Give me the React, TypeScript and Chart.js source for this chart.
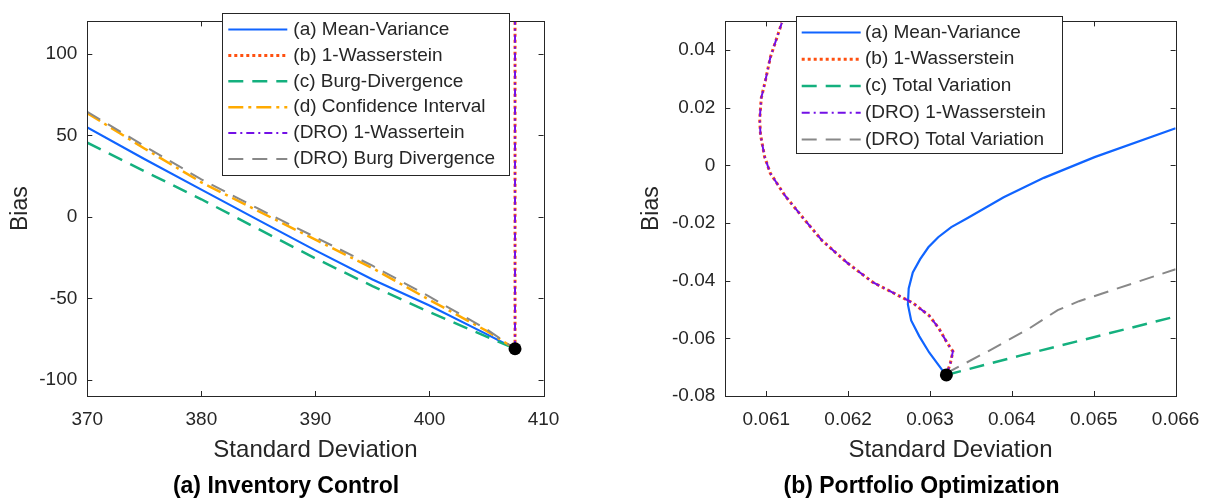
import React, { useEffect, useRef } from 'react';
import { Chart, registerables } from 'chart.js';

Chart.register(...registerables);

const FONT = '"Liberation Sans", Arial, Helvetica, sans-serif';
const TEXT = '#262626';

// ---------- (a) Inventory Control ----------
const invXTicks = [370, 380, 390, 400, 410];
const invXTickLabels = ['370', '380', '390', '400', '410'];
const invYTicks = [-100, -50, 0, 50, 100];
const invYTickLabels = ['-100', '-50', '0', '50', '100'];
const invLabels = [
  '(a) Mean-Variance',
  '(b) 1-Wasserstein',
  '(c) Burg-Divergence',
  '(d) Confidence Interval',
  '(DRO) 1-Wassertein',
  '(DRO) Burg Divergence',
];
const invMeanVarX = [370, 375, 380, 385, 390, 395, 400, 405, 407.5];
const invMeanVarY = [54.9, 35.5, 16.7, -2, -20.6, -38.5, -54.5, -72, -81];
const invWassX = [407.5, 407.5];
const invWassY = [-81, 130];
const invBurgX = [370, 375, 380, 385, 390, 395, 400, 403, 405, 407.5];
const invBurgY = [45.5, 28, 10.8, -7.5, -25.5, -42.5, -58.5, -67.5, -73.5, -81];
const invCIX = [370, 375, 380, 385, 390, 395, 400, 405, 407.5];
const invCIY = [63.7, 42, 21.2, 3.5, -14, -31.5, -51, -70, -81];
const invDroWassX = [407.5, 407.5];
const invDroWassY = [-81, 130];
const invDroBurgX = [370, 375, 380, 385, 390, 395, 400, 405, 407.5];
const invDroBurgY = [64.5, 43.5, 23, 5, -12.5, -30, -49, -69, -81];
const invDotX = [407.5];
const invDotY = [-81];

// ---------- (b) Portfolio Optimization ----------
const portXTicks = [0.061, 0.062, 0.063, 0.064, 0.065, 0.066];
const portXTickLabels = ['0.061', '0.062', '0.063', '0.064', '0.065', '0.066'];
const portYTicks = [-0.08, -0.06, -0.04, -0.02, 0, 0.02, 0.04];
const portYTickLabels = ['-0.08', '-0.06', '-0.04', '-0.02', '0', '0.02', '0.04'];
const portLabels = [
  '(a) Mean-Variance',
  '(b) 1-Wasserstein',
  '(c) Total Variation',
  '(DRO) 1-Wasserstein',
  '(DRO) Total Variation',
];
const portMeanVarX = [0.0632, 0.06315, 0.06299, 0.06287, 0.06277, 0.06273, 0.06274, 0.06279, 0.06288, 0.06298, 0.0631, 0.06326, 0.06346, 0.0639, 0.06439, 0.06501, 0.066];
const portMeanVarY = [-0.0727, -0.071, -0.0649, -0.0593, -0.0538, -0.0482, -0.0427, -0.0371, -0.0325, -0.0284, -0.0249, -0.0214, -0.0182, -0.011, -0.0043, 0.0029, 0.0129];
const portWassX = [0.0632, 0.06325, 0.06328, 0.06321, 0.06311, 0.06299, 0.06279, 0.06257, 0.0623, 0.06199, 0.06168, 0.06145, 0.06123, 0.06105, 0.06098, 0.06093, 0.06092, 0.06094, 0.06099, 0.06105, 0.06119];
const portWassY = [-0.0727, -0.0685, -0.0645, -0.0616, -0.0566, -0.0521, -0.0477, -0.0445, -0.0405, -0.0338, -0.026, -0.0182, -0.0105, -0.0027, 0.003, 0.0107, 0.016, 0.0235, 0.0295, 0.0375, 0.0495];
const portTVX = [0.0632, 0.0641, 0.065, 0.066];
const portTVY = [-0.0727, -0.066, -0.0596, -0.0524];
const portDroWassX = portWassX;
const portDroWassY = portWassY;
const portDroTVX = [0.0632, 0.06326, 0.06372, 0.06421, 0.06456, 0.06482, 0.066];
const portDroTVY = [-0.0727, -0.0712, -0.0643, -0.0566, -0.0502, -0.0471, -0.036];
const portDotX = [0.0632];
const portDotY = [-0.0727];

// ---------- styles ----------
const C_BLUE = '#1064FF';
const C_RED = '#FF5010';
const C_GREEN = '#14B07E';
const C_ORANGE = '#FFAA00';
const C_PURPLE = '#7310E6';
const C_GRAY = '#888888';

const STYLE_SOLID = { borderColor: C_BLUE, borderWidth: 2.2, borderDash: [] as number[] };
const STYLE_DOT = { borderColor: C_RED, borderWidth: 3, borderDash: [3, 3] };
const STYLE_GREEN = { borderColor: C_GREEN, borderWidth: 2.5, borderDash: [15, 9] };
const STYLE_ORANGE = { borderColor: C_ORANGE, borderWidth: 2.5, borderDash: [15, 5, 3, 5] };
const STYLE_PURPLE = { borderColor: C_PURPLE, borderWidth: 2, borderDash: [8, 4, 2, 4] };
const STYLE_GRAY = { borderColor: C_GRAY, borderWidth: 2, borderDash: [15, 9] };

function pts(xs: number[], ys: number[]) {
  return xs.map((x, i) => ({ x, y: ys[i] }));
}

function lineDs(label: string, xs: number[], ys: number[], style: any, order: number) {
  return {
    type: 'scatter',
    label,
    data: pts(xs, ys),
    showLine: true,
    fill: false,
    pointRadius: 0,
    tension: 0,
    borderColor: style.borderColor,
    borderWidth: style.borderWidth,
    borderDash: style.borderDash,
    backgroundColor: style.borderColor,
    borderCapStyle: 'butt',
    order,
    xAxisID: 'x',
    yAxisID: 'y',
    isLegend: true,
  };
}

function dotDs(xs: number[], ys: number[]) {
  return {
    type: 'scatter',
    label: '',
    data: pts(xs, ys),
    showLine: false,
    pointRadius: 6.5,
    pointHoverRadius: 6.5,
    backgroundColor: '#000',
    borderColor: '#000',
    borderWidth: 0,
    order: 0,
    xAxisID: 'x',
    yAxisID: 'y',
    isLegend: false,
  };
}

const boxPlugin = {
  id: 'matlabBox',
  afterDatasetsDraw(chart: any) {
    const { ctx, chartArea: a, scales } = chart;
    const xs = scales.x;
    const ys = scales.y;
    const L = 5;
    ctx.save();
    ctx.strokeStyle = TEXT;
    ctx.lineWidth = 1;
    ctx.setLineDash([]);
    ctx.beginPath();
    xs.ticks.forEach((t: any) => {
      const p = Math.round(xs.getPixelForValue(t.value)) + 0.5;
      ctx.moveTo(p, a.bottom);
      ctx.lineTo(p, a.bottom - L);
      ctx.moveTo(p, a.top);
      ctx.lineTo(p, a.top + L);
    });
    ys.ticks.forEach((t: any) => {
      const p = Math.round(ys.getPixelForValue(t.value)) + 0.5;
      ctx.moveTo(a.left, p);
      ctx.lineTo(a.left + L, p);
      ctx.moveTo(a.right, p);
      ctx.lineTo(a.right - L, p);
    });
    ctx.stroke();
    const l = Math.round(a.left) + 0.5;
    const t = Math.round(a.top) + 0.5;
    const r = Math.round(a.right) + 0.5;
    const b = Math.round(a.bottom) + 0.5;
    ctx.strokeRect(l, t, r - l, b - t);
    ctx.restore();
  },
};

function makeLegendPlugin(p: {
  x: number; y: number; w: number; h: number; row0: number; rowH: number;
  s0: number; s1: number; tx: number; font: number;
}) {
  return {
    id: 'boxLegend',
    afterDraw(chart: any) {
      const { ctx } = chart;
      const items = chart.data.datasets.filter((d: any) => d.isLegend);
      ctx.save();
      ctx.fillStyle = '#ffffff';
      ctx.fillRect(p.x, p.y, p.w, p.h);
      ctx.strokeStyle = TEXT;
      ctx.lineWidth = 1;
      ctx.setLineDash([]);
      ctx.strokeRect(Math.round(p.x) + 0.5, Math.round(p.y) + 0.5, Math.round(p.w), Math.round(p.h));
      items.forEach((ds: any, i: number) => {
        const cy = p.row0 + i * p.rowH;
        ctx.save();
        ctx.strokeStyle = ds.borderColor;
        ctx.lineWidth = ds.borderWidth;
        ctx.setLineDash(ds.borderDash || []);
        ctx.lineCap = 'butt';
        ctx.beginPath();
        ctx.moveTo(p.s0, cy);
        ctx.lineTo(p.s1, cy);
        ctx.stroke();
        ctx.restore();
        ctx.fillStyle = TEXT;
        ctx.font = `${p.font}px ${FONT}`;
        ctx.textBaseline = 'middle';
        ctx.textAlign = 'left';
        ctx.fillText(ds.label, p.tx, cy);
      });
      ctx.restore();
    },
  };
}

function labelFor(ticks: number[], labels: string[]) {
  return (v: number) => {
    const i = ticks.findIndex((t) => Math.abs(t - v) < 1e-9);
    return i >= 0 ? labels[i] : '';
  };
}

function makeScales(o: {
  xmin: number; xmax: number; ymin: number; ymax: number;
  xTicks: number[]; xLabels: string[]; yTicks: number[]; yLabels: string[];
  yWidth: number; rightWidth: number; yTitlePad: number;
}) {
  return {
    x: {
      type: 'linear',
      position: 'bottom',
      min: o.xmin,
      max: o.xmax,
      afterBuildTicks: (s: any) => { s.ticks = o.xTicks.map((v) => ({ value: v })); },
      afterFit: (s: any) => { s.height = 76.9; },
      grid: { display: false, drawTicks: false },
      border: { display: false },
      ticks: {
        callback: labelFor(o.xTicks, o.xLabels),
        color: TEXT,
        font: { family: FONT, size: 19 },
        padding: 12.6,
        maxRotation: 0,
        minRotation: 0,
        autoSkip: false,
      },
      title: {
        display: true,
        text: 'Standard Deviation',
        color: TEXT,
        font: { family: FONT, size: 24 },
        padding: { top: 0, bottom: 8.5 },
      },
    },
    y: {
      type: 'linear',
      position: 'left',
      min: o.ymin,
      max: o.ymax,
      afterBuildTicks: (s: any) => { s.ticks = o.yTicks.map((v) => ({ value: v })); },
      afterFit: (s: any) => { s.width = o.yWidth; },
      grid: { display: false, drawTicks: false },
      border: { display: false },
      ticks: {
        callback: labelFor(o.yTicks, o.yLabels),
        color: TEXT,
        font: { family: FONT, size: 19 },
        padding: 10,
        autoSkip: false,
      },
      title: {
        display: true,
        text: 'Bias',
        color: TEXT,
        font: { family: FONT, size: 23 },
        padding: { top: o.yTitlePad, bottom: 0 },
      },
    },
    yR: {
      type: 'linear',
      position: 'right',
      display: true,
      grid: { display: false, drawTicks: false },
      border: { display: false },
      ticks: { display: false },
      afterFit: (s: any) => { s.width = o.rightWidth; },
    },
  };
}

function baseOptions(scales: any, caption: string) {
  return {
    responsive: false,
    maintainAspectRatio: false,
    animation: false,
    events: [],
    layout: { padding: { top: 6, left: 0, right: 0, bottom: 0 } },
    scales,
    plugins: {
      legend: { display: false },
      tooltip: { enabled: false },
      title: {
        display: true,
        position: 'bottom',
        text: caption,
        color: '#000000',
        font: { family: FONT, size: 23, weight: 'bold' },
        padding: { top: 0, bottom: 1.5 },
      },
    },
  };
}

function InventoryChart() {
  const ref = useRef<HTMLCanvasElement | null>(null);
  useEffect(() => {
    if (!ref.current) return;
    const datasets: any[] = [
      lineDs(invLabels[0], invMeanVarX, invMeanVarY, STYLE_SOLID, 6),
      lineDs(invLabels[1], invWassX, invWassY, STYLE_DOT, 5),
      lineDs(invLabels[2], invBurgX, invBurgY, STYLE_GREEN, 4),
      lineDs(invLabels[3], invCIX, invCIY, STYLE_ORANGE, 3),
      lineDs(invLabels[4], invDroWassX, invDroWassY, STYLE_PURPLE, 2),
      lineDs(invLabels[5], invDroBurgX, invDroBurgY, STYLE_GRAY, 1),
      dotDs(invDotX, invDotY),
    ];
    const chart = new Chart(ref.current, {
      type: 'scatter',
      data: { datasets },
      options: baseOptions(
        makeScales({
          xmin: 370, xmax: 410, ymin: -110, ymax: 120,
          xTicks: invXTicks, xLabels: invXTickLabels,
          yTicks: invYTicks, yLabels: invYTickLabels,
          yWidth: 87.3, rightWidth: 27.7, yTitlePad: 6.4,
        }),
        '(a) Inventory Control'
      ) as any,
      plugins: [
        boxPlugin,
        makeLegendPlugin({ x: 222, y: 12.5, w: 287, h: 161.5, row0: 29.5, rowH: 25.9, s0: 228.3, s1: 287.3, tx: 293.3, font: 19 }),
      ],
    } as any);
    return () => chart.destroy();
  }, []);
  return (
    <canvas
      ref={ref}
      width={572}
      height={502}
      style={{ position: 'absolute', left: 0, top: 0, width: 572, height: 502 }}
    />
  );
}

function PortfolioChart() {
  const ref = useRef<HTMLCanvasElement | null>(null);
  useEffect(() => {
    if (!ref.current) return;
    const datasets: any[] = [
      lineDs(portLabels[0], portMeanVarX, portMeanVarY, STYLE_SOLID, 5),
      lineDs(portLabels[1], portWassX, portWassY, STYLE_DOT, 4),
      lineDs(portLabels[2], portTVX, portTVY, STYLE_GREEN, 3),
      lineDs(portLabels[3], portDroWassX, portDroWassY, STYLE_PURPLE, 2),
      lineDs(portLabels[4], portDroTVX, portDroTVY, STYLE_GRAY, 1),
      dotDs(portDotX, portDotY),
    ];
    const chart = new Chart(ref.current, {
      type: 'scatter',
      data: { datasets },
      options: baseOptions(
        makeScales({
          xmin: 0.0605, xmax: 0.066, ymin: -0.08, ymax: 0.05,
          xTicks: portXTicks, xLabels: portXTickLabels,
          yTicks: portYTicks, yLabels: portYTickLabels,
          yWidth: 94.3, rightWidth: 35.7, yTitlePad: 6.8,
        }),
        '(b) Portfolio Optimization'
      ) as any,
      plugins: [
        boxPlugin,
        makeLegendPlugin({ x: 165, y: 15.7, w: 266, h: 136.6, row0: 32.5, rowH: 26.75, s0: 170.7, s1: 229.7, tx: 234, font: 19 }),
      ],
    } as any);
    return () => chart.destroy();
  }, []);
  return (
    <canvas
      ref={ref}
      width={581}
      height={502}
      style={{ position: 'absolute', left: 631, top: 0, width: 581, height: 502 }}
    />
  );
}

export default function App() {
  return (
    <div style={{ position: 'absolute', left: 0, top: 0, width: 1212, height: 502, background: '#ffffff', overflow: 'hidden' }}>
      <InventoryChart />
      <PortfolioChart />
    </div>
  );
}
